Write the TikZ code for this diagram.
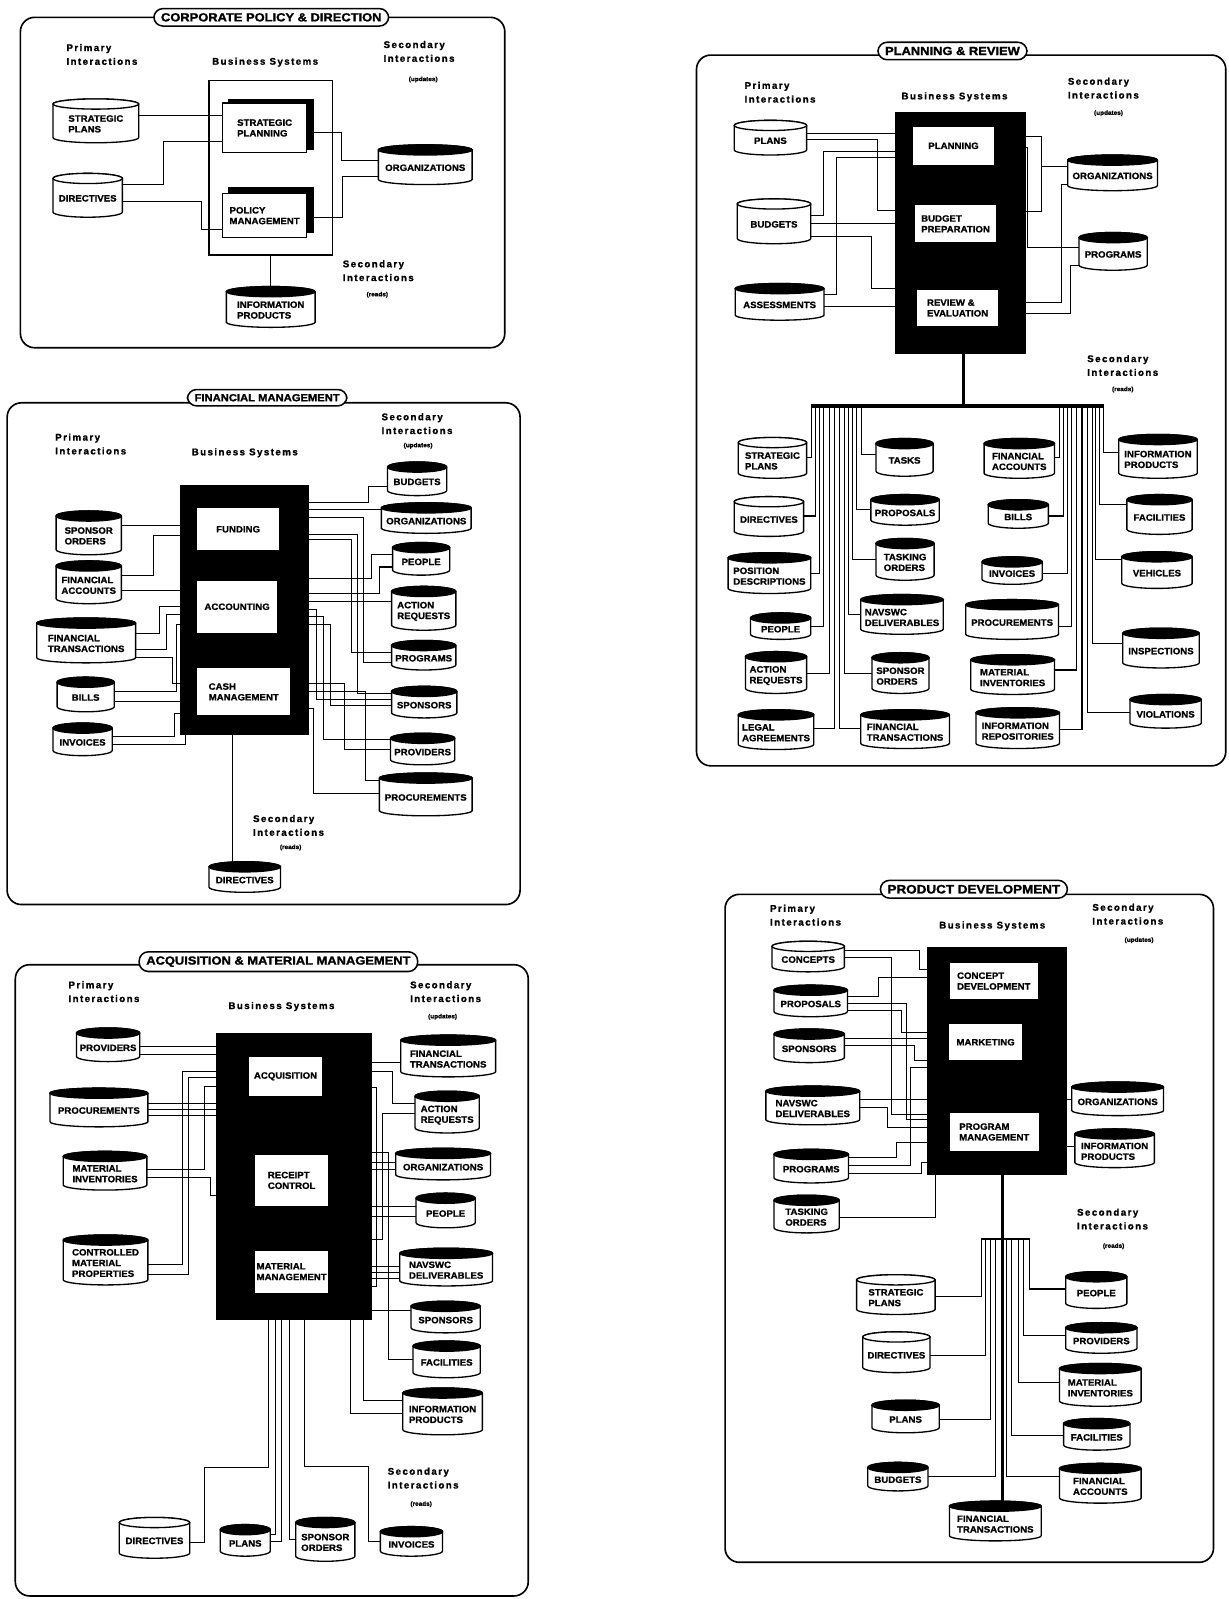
\documentclass[tikz,border=0pt]{standalone}
\usepackage{fontspec}
\setmainfont{Liberation Sans}
\newfontfamily\headfont{Liberation Sans}[LetterSpace=15,FakeBold=1.2]
\newfontfamily\lblfont{Liberation Sans}[FakeBold=1.1,FakeStretch=1.05]
\newfontfamily\ttlfont{Liberation Sans}[FakeBold=1.6,FakeStretch=1.1]
\usetikzlibrary{calc}
\pgfdeclarelayer{paper}
\pgfdeclarelayer{wires}
\pgfsetlayers{paper,wires,main}
\def\cyry{5}
\def\cyrypt{5pt}
\newcommand\Cyl[7][black]{%
  \filldraw[cylline,fill=white] (#3,{#4+\cyry}) -- (#3,{#6-\cyry})
    arc[start angle=180,end angle=360,x radius={(#5-#3)/2*1pt},y radius=\cyrypt]
    -- (#5,{#4+\cyry})
    arc[start angle=0,end angle=180,x radius={(#5-#3)/2*1pt},y radius=\cyrypt] -- cycle;
  \filldraw[cylline,fill=#1] ({(#3+#5)/2},{#4+\cyry}) ellipse[x radius={(#5-#3)/2*1pt},y radius=\cyrypt];
  \node[lbl,minimum width={(#5-#3)*1pt},minimum height={(#6-#4)*1pt}] (#2) at ({(#3+#5)/2},{(#4+#6)/2+3}) {#7};}
\newcommand\Rct[7][wbox]{\node[#1,minimum width={(#5-#3)*1pt},minimum height={(#6-#4)*1pt}] (#2) at ({(#3+#5)/2},{(#4+#6)/2}) {#7};}
\begin{document}
\begin{tikzpicture}[x=1pt,y=-1pt,
  panel/.style={draw,line width=1.6pt,rounded corners=14pt},
  pill/.style={draw,fill=white,line width=1.5pt,rounded corners=9pt,inner xsep=7pt,inner ysep=4.5pt},
  lbl/.style={font=\lblfont\bfseries\fontsize{9}{10.5}\selectfont,align=left,inner sep=0pt},
  head/.style={font=\headfont\bfseries\fontsize{9.5}{13.5}\selectfont,align=left,anchor=north west,inner sep=0pt},
  headc/.style={font=\headfont\bfseries\fontsize{9.5}{13.5}\selectfont,inner sep=0pt},
  small/.style={font=\lblfont\bfseries\fontsize{6}{7}\selectfont,inner sep=0pt},
  blk/.style={fill=black,draw=black,inner sep=0pt},
  wbox/.style={fill=white,draw=black,line width=1pt,inner sep=0pt,font=\lblfont\bfseries\fontsize{9}{10.5}\selectfont,align=left},
  bsframe/.style={draw=black,line width=1.2pt,inner sep=0pt},
  cylline/.style={line width=1.3pt},
  wire/.style={line width=1pt},
  bus/.style={line width=3.2pt},
]
\useasboundingbox (0,0) rectangle (1205,1568);
\begin{pgfonlayer}{paper}
\fill[white] (0,0) rectangle (1205,1568);
\end{pgfonlayer}

%================ PANEL 1 =================
\draw[panel] (20,17) rectangle (495,341);
\node[pill,font=\ttlfont\bfseries\fontsize{11.5}{12}\selectfont] (t1) at (266,17) {CORPORATE POLICY \& DIRECTION};
\node[head] (p1pri) at (65,43) {Primary\\Interactions};
\node[headc] (p1bs) at (260,61) {Business Systems};
\node[head] (p1sec) at (376,40) {Secondary\\Interactions};
\node[small] (p1upd) at (415,78) {(updates)};
\node[head] (p1rds) at (336,255) {Secondary\\Interactions};
\node[small] (p1rd) at (370,289) {(reads)};
\Rct[bsframe]{p1frame}{205}{79}{326}{250}{}
\Rct[blk]{p1sh1}{224}{97}{307}{146}{}
\Rct{p1spl}{218}{101}{301}{150}{STRATEGIC\\PLANNING}
\Rct[blk]{p1sh2}{224}{184}{307}{228}{}
\Rct{p1pm}{218}{190}{301}{233}{POLICY\\MANAGEMENT}
\Cyl[white]{p1sp}{52}{97}{136}{140}{STRATEGIC\\PLANS}
\Cyl[white]{p1dir}{52}{170}{120}{213}{DIRECTIVES}
\Cyl{p1org}{371}{142}{463}{181}{ORGANIZATIONS}
\Cyl{p1ip}{222}{281}{309}{321}{INFORMATION\\PRODUCTS}

%================ PANEL 2 =================
\draw[panel] (7,395) rectangle (510,887);
\node[pill,font=\ttlfont\bfseries\fontsize{10}{11}\selectfont] (t2) at (262,390) {FINANCIAL MANAGEMENT};
\node[head] (p2pri) at (54,425) {Primary\\Interactions};
\node[headc] (p2bs) at (240,444) {Business Systems};
\node[head] (p2sec) at (374,405) {Secondary\\Interactions};
\node[small] (p2upd) at (410,437) {(updates)};
\node[head] (p2rds) at (248,799) {Secondary\\Interactions};
\node[small] (p2rd) at (285,831) {(reads)};
\Rct[blk]{p2box}{177}{476}{302}{720}{}
\Rct{p2fund}{193}{498}{274}{540}{FUNDING}
\Rct{p2acc}{193}{569}{272}{621}{ACCOUNTING}
\Rct{p2cash}{193}{655}{285}{702}{CASH\\MANAGEMENT}
\Cyl{p2so}{55}{501}{119}{544}{SPONSOR\\ORDERS}
\Cyl{p2fa}{55}{550}{119}{592}{FINANCIAL\\ACCOUNTS}
\Cyl{p2ft}{36}{606}{133}{650}{FINANCIAL\\TRANSACTIONS}
\Cyl{p2bills}{56}{664}{112}{698}{BILLS}
\Cyl{p2inv}{52}{709}{110}{741}{INVOICES}
\Cyl{p2bud}{380}{453}{438}{486}{BUDGETS}
\Cyl{p2org}{374}{493}{462}{523}{ORGANIZATIONS}
\Cyl{p2ppl}{385}{532}{441}{564}{PEOPLE}
\Cyl{p2ar}{384}{575}{447}{618}{ACTION\\REQUESTS}
\Cyl{p2prog}{384}{628}{447}{657}{PROGRAMS}
\Cyl{p2spon}{384}{673}{448}{704}{SPONSORS}
\Cyl{p2prov}{383}{719}{446}{750}{PROVIDERS}
\Cyl{p2proc}{372}{758}{463}{800}{PROCUREMENTS}
\Cyl{p2dir}{205}{845}{275}{875}{DIRECTIVES}

%================ PANEL 3 =================
\draw[panel] (15,946) rectangle (518,1565);
\node[pill,font=\ttlfont\bfseries\fontsize{11.5}{12}\selectfont] (t3) at (273,943) {ACQUISITION \& MATERIAL MANAGEMENT};
\node[head] (p3pri) at (67,962) {Primary\\Interactions};
\node[headc] (p3bs) at (276,987) {Business Systems};
\node[head] (p3sec) at (402,962) {Secondary\\Interactions};
\node[small] (p3upd) at (434,997) {(updates)};
\node[head] (p3rds) at (380,1439) {Secondary\\Interactions};
\node[small] (p3rd) at (413,1475) {(reads)};
\Rct[blk]{p3box}{212}{1013}{364}{1294}{}
\Rct{p3acq}{244}{1036}{316}{1075}{ACQUISITION}
\Rct{p3rc}{250}{1132}{322}{1183}{RECEIPT\\CONTROL}
\Rct{p3mm}{250}{1226}{322}{1268}{MATERIAL\\MANAGEMENT}
\Cyl{p3prov}{75}{1008}{137}{1041}{PROVIDERS}
\Cyl{p3proc}{49}{1067}{145}{1105}{PROCUREMENTS}
\Cyl{p3mi}{62}{1129}{144}{1167}{MATERIAL\\INVENTORIES}
\Cyl{p3cmp}{62}{1211}{145}{1260}{CONTROLLED\\MATERIAL\\PROPERTIES}
\Cyl{p3ft}{393}{1015}{486}{1056}{FINANCIAL\\TRANSACTIONS}
\Cyl{p3ar}{407}{1070}{470}{1111}{ACTION\\REQUESTS}
\Cyl{p3org}{388}{1126}{481}{1157}{ORGANIZATIONS}
\Cyl{p3ppl}{408}{1170}{466}{1204}{PEOPLE}
\Cyl{p3nav}{392}{1224}{483}{1261}{NAVSWC\\DELIVERABLES}
\Cyl{p3spon}{403}{1276}{471}{1307}{SPONSORS}
\Cyl{p3fac}{405}{1315}{471}{1351}{FACILITIES}
\Cyl{p3ip}{395}{1361}{473}{1407}{INFORMATION\\PRODUCTS}
\Cyl[white]{p3dir}{117}{1488}{186}{1528}{DIRECTIVES}
\Cyl{p3plans}{216}{1495}{265}{1526}{PLANS}
\Cyl{p3so}{290}{1488}{348}{1531}{SPONSOR\\ORDERS}
\Cyl{p3inv}{373}{1497}{434}{1526}{INVOICES}

%================ PANEL 4 =================
\draw[panel] (683,54) rectangle (1202,751);
\node[pill,font=\ttlfont\bfseries\fontsize{11.5}{12}\selectfont] (t4) at (934,50) {PLANNING \& REVIEW};
\node[head] (p4pri) at (730,80) {Primary\\Interactions};
\node[headc] (p4bs) at (936,95) {Business Systems};
\node[head] (p4sec) at (1047,76) {Secondary\\Interactions};
\node[small] (p4upd) at (1087,111) {(updates)};
\node[head] (p4rds) at (1066,348) {Secondary\\Interactions};
\node[small] (p4rd) at (1101,382) {(reads)};
\Rct[blk]{p4box}{878}{110}{1005}{346}{}
\Rct{p4plan}{895}{124}{975}{162}{PLANNING}
\Rct{p4bp}{897}{201}{977}{238}{BUDGET\\PREPARATION}
\Rct{p4re}{899}{284}{979}{320}{REVIEW \&\\EVALUATION}
\Cyl[white]{p4plans}{720}{118}{791}{152}{PLANS}
\Cyl[white]{p4bud}{723}{195}{795}{239}{BUDGETS}
\Cyl{p4ass}{721}{278}{808}{314}{ASSESSMENTS}
\Cyl{p4org}{1047}{152}{1135}{187}{ORGANIZATIONS}
\Cyl{p4prog}{1058}{228}{1125}{265}{PROGRAMS}
\Cyl[white]{p4sp}{724}{429}{791}{469}{STRATEGIC\\PLANS}
\Cyl[white]{p4dir}{720}{487}{788}{526}{DIRECTIVES}
\Cyl{p4pd}{714}{542}{795}{582}{POSITION\\DESCRIPTIONS}
\Cyl{p4ppl}{736}{601}{795}{627}{PEOPLE}
\Cyl{p4ar}{731}{639}{791}{680}{ACTION\\REQUESTS}
\Cyl{p4la}{724}{696}{798}{735}{LEGAL\\AGREEMENTS}
\Cyl{p4tasks}{859}{430}{915}{467}{TASKS}
\Cyl{p4prop}{854}{485}{921}{515}{PROPOSALS}
\Cyl{p4to}{859}{528}{916}{569}{TASKING\\ORDERS}
\Cyl{p4nav}{844}{583}{925}{622}{NAVSWC\\DELIVERABLES}
\Cyl{p4so}{855}{640}{911}{680}{SPONSOR\\ORDERS}
\Cyl{p4ft}{844}{696}{931}{734}{FINANCIAL\\TRANSACTIONS}
\Cyl{p4fa}{965}{430}{1034}{469}{FINANCIAL\\ACCOUNTS}
\Cyl{p4bills}{969}{490}{1028}{518}{BILLS}
\Cyl{p4inv}{963}{546}{1022}{573}{INVOICES}
\Cyl{p4proc}{947}{588}{1038}{627}{PROCUREMENTS}
\Cyl{p4mi}{952}{642}{1034}{681}{MATERIAL\\INVENTORIES}
\Cyl{p4ir}{957}{694}{1039}{734}{INFORMATION\\REPOSITORIES}
\Cyl{p4ip}{1097}{426}{1174}{469}{INFORMATION\\PRODUCTS}
\Cyl{p4fac}{1105}{485}{1169}{524}{FACILITIES}
\Cyl{p4veh}{1100}{541}{1169}{577}{VEHICLES}
\Cyl{p4insp}{1101}{616}{1176}{655}{INSPECTIONS}
\Cyl{p4viol}{1108}{681}{1178}{714}{VIOLATIONS}
\coordinate (p4bus) at (945,398);
\coordinate (p4busL) at (795,398);
\coordinate (p4busR) at (1083,398);

%================ PANEL 5 =================
\draw[panel] (711,877) rectangle (1190,1532);
\node[pill,font=\ttlfont\bfseries\fontsize{12}{13}\selectfont] (t5) at (955,872) {PRODUCT DEVELOPMENT};
\node[head] (p5pri) at (755,887) {Primary\\Interactions};
\node[headc] (p5bs) at (973,908) {Business Systems};
\node[head] (p5sec) at (1071,886) {Secondary\\Interactions};
\node[small] (p5upd) at (1117,922) {(updates)};
\node[head] (p5rds) at (1056,1185) {Secondary\\Interactions};
\node[small] (p5rd) at (1092,1222) {(reads)};
\Rct[blk]{p5box}{909}{929}{1046}{1151}{}
\Rct{p5cd}{931}{944}{1018}{980}{CONCEPT\\DEVELOPMENT}
\Rct{p5mkt}{930}{1004}{1003}{1040}{MARKETING}
\Rct{p5pm}{931}{1091}{1019}{1129}{PROGRAM\\MANAGEMENT}
\Cyl[white]{p5con}{757}{923}{828}{953}{CONCEPTS}
\Cyl{p5prop}{759}{966}{831}{997}{PROPOSALS}
\Cyl{p5spon}{759}{1009}{828}{1042}{SPONSORS}
\Cyl{p5nav}{751}{1065}{843}{1103}{NAVSWC\\DELIVERABLES}
\Cyl{p5prog}{759}{1127}{832}{1160}{PROGRAMS}
\Cyl{p5to}{759}{1172}{823}{1209}{TASKING\\ORDERS}
\Cyl{p5org}{1051}{1061}{1141}{1094}{ORGANIZATIONS}
\Cyl{p5ip}{1054}{1107}{1132}{1145}{INFORMATION\\PRODUCTS}
\Cyl[white]{p5sp}{840}{1250}{917}{1289}{STRATEGIC\\PLANS}
\Cyl[white]{p5dir}{846}{1306}{912}{1346}{DIRECTIVES}
\Cyl{p5plans}{855}{1373}{921}{1405}{PLANS}
\Cyl{p5bud}{851}{1434}{910}{1462}{BUDGETS}
\Cyl{p5ft}{931}{1472}{1021}{1511}{FINANCIAL\\TRANSACTIONS}
\Cyl{p5ppl}{1045}{1247}{1105}{1283}{PEOPLE}
\Cyl{p5prov}{1045}{1297}{1115}{1327}{PROVIDERS}
\Cyl{p5mi}{1039}{1337}{1119}{1379}{MATERIAL\\INVENTORIES}
\Cyl{p5fac}{1043}{1391}{1108}{1422}{FACILITIES}
\Cyl{p5fa}{1039}{1435}{1119}{1474}{FINANCIAL\\ACCOUNTS}
\coordinate (p5combL) at (962,1215);
\coordinate (p5combR) at (1010,1215);

%================ WIRES =================
\begin{pgfonlayer}{wires}
% panel 1
\draw[wire] (p1sp.east |- 0,113) -- (p1spl.west |- 0,113);
\draw[wire] (p1dir.east |- 0,181) -| (160,139) -- (p1spl.west |- 0,139);
\draw[wire] (p1dir.east |- 0,198) -| (198,225) -- (p1pm.west |- 0,225);
\draw[wire] (p1sh1.east |- 0,130) -| (335,157) -- (p1org.west |- 0,157);
\draw[wire] (p1sh2.east |- 0,213) -| (336,173) -- (p1org.west |- 0,173);
\draw[wire,line width=1.4pt] (p1frame.south) -- (p1ip.north);
% panel 2 left
\draw[wire] (p2so.east |- 0,515) -- (p2box.west |- 0,515);
\draw[wire] (p2fa.east |- 0,564) -| (151,525) -- (p2box.west |- 0,525);
\draw[wire] (p2fa.east |- 0,579) -- (p2box.west |- 0,579);
\draw[wire] (p2ft.east |- 0,621) -| (156,595) -- (p2box.west |- 0,595);
\draw[wire] (p2ft.east |- 0,637) -| (163,603) -- (p2box.west |- 0,603);
\draw[wire] (p2ft.east |- 0,645) -| (169,670) -- (p2box.west |- 0,670);
\draw[wire] (p2bills.east |- 0,678) -| (173,612) -- (p2box.west |- 0,612);
\draw[wire] (p2bills.east |- 0,688) -- (p2box.west |- 0,688);
\draw[wire] (p2inv.east |- 0,722) -| (171,700) -- (p2box.west |- 0,700);
\draw[wire] (p2inv.east |- 0,730) -| (p2box.south -| 182,0);
% panel 2 right
\draw[wire] (p2box.east |- 0,493) -| (361,477) -- (p2bud.west |- 0,477);
\draw[wire] (p2box.east |- 0,500) -- (p2org.west |- 0,500);
\draw[wire] (p2box.east |- 0,507) -| (356,650) -- (p2prog.west |- 0,650);
\draw[wire] (p2box.east |- 0,524) -| (351,680) -- (p2spon.west |- 0,680);
\draw[wire] (p2box.east |- 0,529) -| (345,640) -- (p2prog.west |- 0,640);
\draw[wire] (p2box.east |- 0,567) -| (364,544) -- (p2ppl.west |- 0,544);
\draw[wire] (p2box.east |- 0,582) -| (372,556) -- (p2ppl.west |- 0,556);
\draw[wire] (p2box.east |- 0,590) -- (p2ar.west |- 0,590);
\draw[wire] (p2box.east |- 0,598) -| (310,686) -- (p2spon.west |- 0,686);
\draw[wire] (p2box.east |- 0,605) -| (317,725) -- (p2prov.west |- 0,725);
\draw[wire] (p2box.east |- 0,612) -| (324,692) -- (p2spon.west |- 0,692);
\draw[wire] (p2box.east |- 0,670) -| (338,735) -- (p2prov.west |- 0,735);
\draw[wire] (p2box.east |- 0,678) -| (358,765) -- (p2proc.west |- 0,765);
\draw[wire] (p2box.east |- 0,695) -| (307,778) -- (p2proc.west |- 0,778);
\draw[wire] (p2box.south -| 228,0) -- (p2dir.north -| 228,0);
% panel 3 left
\draw[wire] (p3prov.east |- 0,1026) -- (p3box.west |- 0,1026);
\draw[wire] (p3prov.east |- 0,1034) -- (p3box.west |- 0,1034);
\draw[wire] (p3proc.east |- 0,1082) -- (p3box.west |- 0,1082);
\draw[wire] (p3proc.east |- 0,1088) -- (p3box.west |- 0,1088);
\draw[wire] (p3proc.east |- 0,1094) -- (p3box.west |- 0,1094);
\draw[wire] (p3box.west |- 0,1051) -| (179,1240) -- (p3cmp.east |- 0,1240);
\draw[wire] (p3box.west |- 0,1057) -| (185,1250) -- (p3cmp.east |- 0,1250);
\draw[wire] (p3box.west |- 0,1065) -| (201,1147) -- (p3mi.east |- 0,1147);
\draw[wire] (p3mi.east |- 0,1155) -| (206,1172) -- (p3box.west |- 0,1172);
% panel 3 right
\draw[wire] (p3box.east |- 0,1042) -- (p3ft.west |- 0,1042);
\draw[wire] (p3box.east |- 0,1051) -| (385,1082) -- (p3ar.west |- 0,1082);
\draw[wire] (p3ar.west |- 0,1092) -| (375,1215) -- (p3box.east |- 0,1215);
\draw[wire] (p3box.east |- 0,1140) -- (p3org.west |- 0,1140);
\draw[wire] (p3box.east |- 0,1147) -- (p3org.west |- 0,1147);
\draw[wire] (p3box.east |- 0,1183) -- (p3ppl.west |- 0,1183);
\draw[wire] (p3box.east |- 0,1193) -- (p3ppl.west |- 0,1193);
\draw[wire] (p3box.east |- 0,1242) -- (p3nav.west |- 0,1242);
\draw[wire] (p3box.east |- 0,1248) -- (p3nav.west |- 0,1248);
\draw[wire] (p3box.east |- 0,1254) -- (p3nav.west |- 0,1254);
\draw[wire] (p3box.east |- 0,1285) -- (p3spon.west |- 0,1285);
\draw[wire] (p3box.east |- 0,1130) -| (381,1333) -- (p3fac.west |- 0,1333);
\draw[wire] (p3box.east |- 0,1066) -| (369,1262) -- (p3box.east |- 0,1262);
\draw[wire] (p3box.south -| 344,0) |- (p3ip.west |- 0,1386);
\draw[wire] (p3box.south -| 356,0) |- (p3ip.west |- 0,1373);
% panel 3 bottom
\draw[wire] (p3box.south -| 263,0) -- (263,1439) -| (201,1513) -- (p3dir.east |- 0,1513);
\draw[wire] (p3box.south -| 270,0) |- (p3plans.east |- 0,1505);
\draw[wire] (p3box.south -| 276,0) |- (p3plans.east |- 0,1512);
\draw[wire] (p3box.south -| 284,0) |- (p3so.west |- 0,1510);
\draw[wire] (p3box.south -| 299,0) -- (299,1438) -| (361,1512) -- (p3inv.west |- 0,1512);
% panel 4 top
\draw[wire] (p4plans.east |- 0,131) -- (p4box.west |- 0,131);
\draw[wire] (p4plans.east |- 0,137) -| (860,206) -- (p4box.west |- 0,206);
\draw[wire] (p4bud.east |- 0,211) -| (808,149) -- (p4box.west |- 0,149);
\draw[wire] (p4bud.east |- 0,219) -- (p4box.west |- 0,219);
\draw[wire] (p4bud.east |- 0,232) -| (855,283) -- (p4box.west |- 0,283);
\draw[wire] (p4ass.east |- 0,289) -| (820,154) -- (p4box.west |- 0,154);
\draw[wire] (p4ass.east |- 0,301) -- (p4box.west |- 0,301);
\draw[wire] (p4box.east |- 0,134) -| (1021,163) -- (p4org.west |- 0,163);
\draw[wire] (p4box.east |- 0,207) -| (1021,163);
\draw[wire] (p4box.east |- 0,145) -| (1008,243) -- (p4prog.west |- 0,243);
\draw[wire] (p4box.east |- 0,297) -| (1041,181) -- (p4org.west |- 0,181);
\draw[wire] (p4box.east |- 0,307) -| (1050,260) -- (p4prog.west |- 0,260);
% panel 4 bus
\draw[bus] (p4box.south -| p4bus) -- (p4bus);
\draw[bus] (p4busL) -- (p4busR);
\draw[wire] (p4busL -| 796,0) |- (p4sp.east |- 0,449);
\draw[wire] (p4busL -| 800,0) |- (p4dir.east |- 0,506);
\draw[wire] (p4busL -| 804,0) |- (p4pd.east |- 0,562);
\draw[wire] (p4busL -| 808,0) |- (p4ppl.east |- 0,614);
\draw[wire] (p4busL -| 813,0) |- (p4ar.east |- 0,660);
\draw[wire] (p4busL -| 818,0) |- (p4la.east |- 0,714);
\draw[wire] (p4busL -| 823,0) |- (p4ft.west |- 0,714);
\draw[wire] (p4busL -| 828,0) |- (p4so.west |- 0,660);
\draw[wire] (p4busL -| 832,0) |- (p4nav.west |- 0,603);
\draw[wire] (p4busL -| 836,0) |- (p4to.west |- 0,549);
\draw[wire] (p4busL -| 840,0) |- (p4prop.west |- 0,500);
\draw[wire] (p4busL -| 845,0) |- (p4tasks.west |- 0,446);
\draw[wire] (p4busR -| 1039,0) |- (p4fa.east |- 0,449);
\draw[wire] (p4busR -| 1043,0) |- (p4bills.east |- 0,506);
\draw[wire] (p4busR -| 1047,0) |- (p4inv.east |- 0,562);
\draw[wire] (p4busR -| 1051,0) |- (p4proc.east |- 0,614);
\draw[wire] (p4busR -| 1056,0) |- (p4mi.east |- 0,657);
\draw[wire] (p4busR -| 1061,0) |- (p4ir.east |- 0,715);
\draw[wire] (p4busR -| 1066,0) |- (p4viol.west |- 0,699);
\draw[wire] (p4busR -| 1071,0) |- (p4insp.west |- 0,631);
\draw[wire] (p4busR -| 1074,0) |- (p4veh.west |- 0,549);
\draw[wire] (p4busR -| 1078,0) |- (p4fac.west |- 0,495);
\draw[wire] (p4busR -| 1082,0) |- (p4ip.west |- 0,444);
% panel 5 top
\draw[wire] (p5con.east |- 0,932) -| (902,951) -- (p5box.west |- 0,951);
\draw[wire] (p5con.east |- 0,939) -| (874,1093) -- (p5box.west |- 0,1093);
\draw[wire] (p5prop.east |- 0,977) -| (861,959) -- (p5box.west |- 0,959);
\draw[wire] (p5prop.east |- 0,984) -| (889,1098) -- (p5box.west |- 0,1098);
\draw[wire] (p5prop.east |- 0,991) -| (884,1012) -- (p5box.west |- 0,1012);
\draw[wire] (p5spon.east |- 0,1018) -- (p5box.west |- 0,1018);
\draw[wire] (p5spon.east |- 0,1025) -| (897,1040) -- (p5box.west |- 0,1040);
\draw[wire] (p5nav.east |- 0,1078) -- (p5box.west |- 0,1078);
\draw[wire] (p5nav.east |- 0,1086) -| (870,1106) -- (p5box.west |- 0,1106);
\draw[wire] (p5prog.east |- 0,1135) -| (879,1120) -- (p5box.west |- 0,1120);
\draw[wire] (p5prog.east |- 0,1143) -| (893,1047) -- (p5box.west |- 0,1047);
\draw[wire] (p5prog.east |- 0,1151) -| (904,1140) -- (p5box.west |- 0,1140);
\draw[wire] (p5to.east |- 0,1194) -| (p5box.south -| 917,0);
\draw[wire] (p5box.east |- 0,1078) -- (p5org.west |- 0,1078);
\draw[wire] (p5box.east |- 0,1124) -- (p5ip.west |- 0,1124);
% panel 5 bus
\draw[bus] (p5box.south -| 983,0) -- (p5ft.north -| 983,0);
\draw[wire,line width=1.8pt] (p5combL) -- (p5combR);
\draw[wire] (p5combL -| 962,0) |- (p5sp.east |- 0,1271);
\draw[wire] (p5combL -| 966,0) |- (p5dir.east |- 0,1329);
\draw[wire] (p5combL -| 971,0) |- (p5plans.east |- 0,1392);
\draw[wire] (p5combL -| 976,0) |- (p5bud.east |- 0,1448);
\draw[wire] (p5combR -| 1010,0) |- (p5ppl.west |- 0,1264);
\draw[wire] (p5combR -| 1004,0) |- (p5prov.west |- 0,1310);
\draw[wire] (p5combR -| 999,0) |- (p5mi.west |- 0,1356);
\draw[wire] (p5combR -| 992,0) |- (p5fac.west |- 0,1408);
\draw[wire] (p5combR -| 987,0) |- (p5fa.west |- 0,1448);
\end{pgfonlayer}
\end{tikzpicture}
\end{document}
